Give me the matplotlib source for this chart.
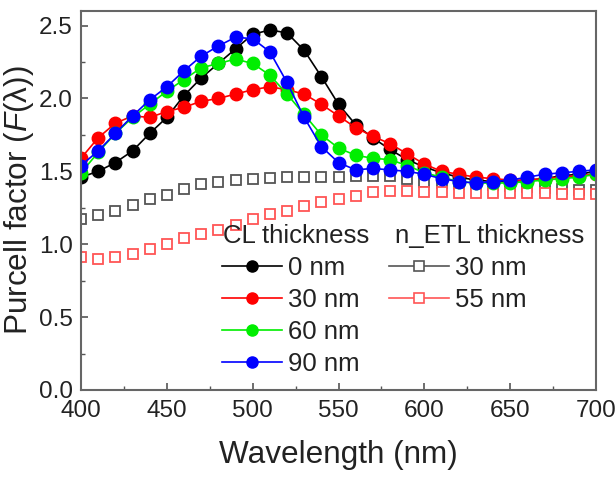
import matplotlib
matplotlib.use("Agg")
import matplotlib.pyplot as plt
from matplotlib.lines import Line2D

plt.rcParams['font.family'] = ['Liberation Sans', 'DejaVu Sans']
plt.rcParams['mathtext.fontset'] = 'custom'
plt.rcParams['mathtext.it'] = 'Liberation Sans:italic'
plt.rcParams['mathtext.rm'] = 'Liberation Sans'

wavelength = list(range(400, 701, 10))

cl_0nm = [1.46, 1.50, 1.56, 1.64, 1.76, 1.87, 2.02, 2.14, 2.24, 2.34, 2.44, 2.47, 2.45, 2.33, 2.15, 1.96,
          1.82, 1.73, 1.65, 1.58, 1.53, 1.49, 1.46, 1.44, 1.43, 1.43, 1.44, 1.45, 1.47, 1.48, 1.50]
cl_30nm = [1.59, 1.73, 1.83, 1.88, 1.87, 1.91, 1.94, 1.98, 2.00, 2.03, 2.06, 2.08, 2.06, 2.03, 1.96, 1.88,
           1.80, 1.74, 1.69, 1.62, 1.55, 1.50, 1.48, 1.46, 1.45, 1.44, 1.44, 1.45, 1.46, 1.47, 1.48]
cl_60nm = [1.49, 1.63, 1.76, 1.87, 1.96, 2.05, 2.13, 2.21, 2.24, 2.27, 2.24, 2.16, 2.03, 1.89, 1.75, 1.66,
           1.61, 1.59, 1.58, 1.54, 1.49, 1.46, 1.43, 1.42, 1.42, 1.42, 1.43, 1.44, 1.45, 1.46, 1.48]
cl_90nm = [1.54, 1.64, 1.76, 1.88, 1.99, 2.08, 2.19, 2.29, 2.36, 2.42, 2.41, 2.32, 2.11, 1.87, 1.67, 1.56,
           1.51, 1.52, 1.51, 1.50, 1.48, 1.45, 1.43, 1.42, 1.43, 1.44, 1.46, 1.48, 1.49, 1.50, 1.51]
etl_30nm = [1.17, 1.20, 1.23, 1.27, 1.31, 1.34, 1.38, 1.41, 1.43, 1.44, 1.45, 1.455, 1.46, 1.46, 1.46, 1.46,
            1.47, 1.47, 1.47, 1.45, 1.43, 1.42, 1.41, 1.41, 1.405, 1.40, 1.39, 1.385, 1.38, 1.37, 1.37]
etl_55nm = [0.91, 0.90, 0.91, 0.93, 0.97, 1.00, 1.04, 1.07, 1.10, 1.13, 1.17, 1.21, 1.23, 1.26, 1.29, 1.31,
            1.33, 1.355, 1.365, 1.365, 1.36, 1.355, 1.35, 1.35, 1.35, 1.35, 1.35, 1.35, 1.345, 1.345, 1.345]

cl_labels = ["0 nm", "30 nm", "60 nm", "90 nm"]
etl_labels = ["30 nm", "55 nm"]
cl_colors = ["#000000", "#ff0000", "#00ee00", "#0000ff"]
etl_colors = ["#555555", "#ff5555"]

W, H = 615, 479
fig = plt.figure(figsize=(W/100, H/100), dpi=100)
ax = fig.add_axes([81/W, 1-390/H, (596-81)/W, (390-11)/H])

for ys, c in zip([etl_30nm, etl_55nm], etl_colors):
    ax.plot(wavelength, ys, ls='none', marker='s', ms=7, mfc='white', mec=c, mew=1.3)
for ys, c in zip([cl_0nm, cl_30nm, cl_60nm, cl_90nm], cl_colors):
    ax.plot(wavelength, ys, color=c, lw=1.2, marker='o', ms=9)

ax.set_xlim(400, 700)
ax.set_ylim(0, 2.6)
ax.set_xticks(range(400, 701, 50))
ax.set_yticks([0, 0.5, 1.0, 1.5, 2.0, 2.5])
ax.set_xticks(range(425, 700, 50), minor=True)
ax.set_yticks([0.25, 0.75, 1.25, 1.75, 2.25], minor=True)
ax.tick_params(which='both', direction='in', top=False, right=False, labelsize=17.5, colors='#222222')
ax.tick_params(which='major', length=5, width=1.2, color='#555555')
ax.tick_params(which='minor', length=3, width=1.0, color='#555555')
ax.tick_params(axis='x', which='major', pad=7)
ax.tick_params(axis='y', which='major', pad=6)
for s in ax.spines.values():
    s.set_color('#666666')
    s.set_linewidth(1.5)
ax.set_xlabel('Wavelength (nm)', fontsize=22.7, color='#222222', labelpad=13)
ax.set_ylabel(r'Purcell factor ($F$(λ))', fontsize=22.7, color='#222222', labelpad=2)

cl_handles = [Line2D([], [], color=c, lw=1.2, marker='o', ms=8) for c in cl_colors]
etl_handles = [Line2D([], [], color=c, lw=1.2, marker='s', ms=6.5, mfc='white', mec=c, mew=1.2) for c in etl_colors]

fs = 18.5
fig.text(223/W, 1-243/H, 'CL thickness', fontsize=fs, color='#222222', ha='left', va='baseline')
fig.text(395/W, 1-243/H, 'n_ETL thickness', fontsize=fs, color='#222222', ha='left', va='baseline')

common = dict(loc='upper left', frameon=False, fontsize=fs,
              handlelength=2.33, handletextpad=0.23, labelspacing=0.31,
              borderpad=0, borderaxespad=0)
leg1 = fig.legend(cl_handles, cl_labels, bbox_to_anchor=(222/W, 1-256/H), **common)
leg2 = fig.legend(etl_handles, etl_labels, bbox_to_anchor=(389/W, 1-256/H), **common)
for lg in (leg1, leg2):
    for t in lg.get_texts():
        t.set_color('#222222')

fig.savefig('out.png', dpi=100)
